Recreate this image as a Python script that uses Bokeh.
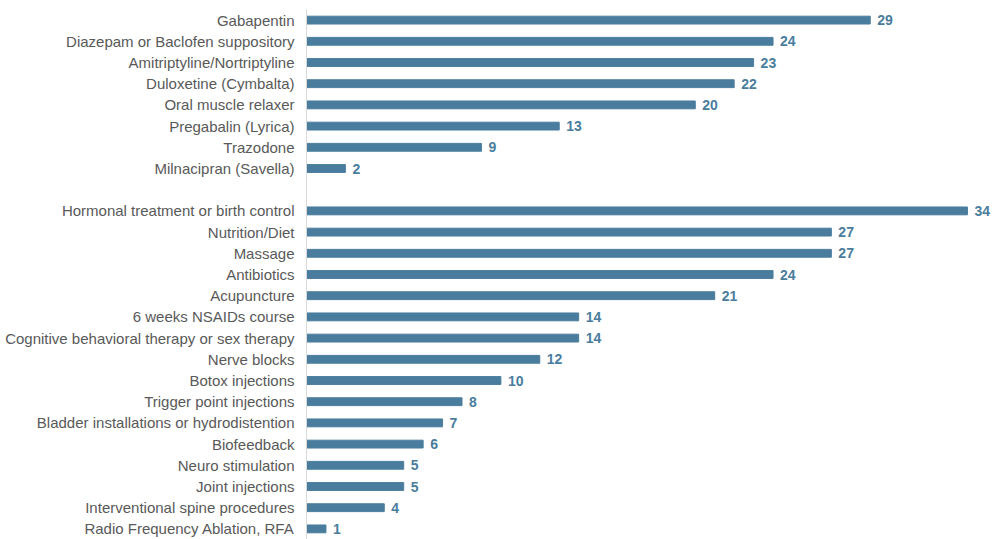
from bokeh.plotting import figure
from bokeh.models import ColumnDataSource, FixedTicker, Range1d
from bokeh.core.properties import value
from bokeh.embed import file_html
from bokeh.resources import INLINE

group1 = ["Gabapentin", "Diazepam or Baclofen suppository", "Amitriptyline/Nortriptyline",
          "Duloxetine (Cymbalta)", "Oral muscle relaxer", "Pregabalin (Lyrica)",
          "Trazodone", "Milnacipran (Savella)"]
values1 = [29, 24, 23, 22, 20, 13, 9, 2]
group2 = ["Hormonal treatment or birth control", "Nutrition/Diet", "Massage", "Antibiotics",
          "Acupuncture", "6 weeks NSAIDs course", "Cognitive behavioral therapy or sex therapy",
          "Nerve blocks", "Botox injections", "Trigger point injections",
          "Bladder installations or hydrodistention", "Biofeedback", "Neuro stimulation",
          "Joint injections", "Interventional spine procedures", "Radio Frequency Ablation, RFA"]
values2 = [34, 27, 27, 24, 21, 14, 14, 12, 10, 8, 7, 6, 5, 5, 4, 1]

cats = group1 + group2
vals = values1 + values2
ypos = [-i for i in range(len(group1))] + [-(i + len(group1) + 1) for i in range(len(group2))]

BAR = "#4a7d9d"
src = ColumnDataSource(dict(y=ypos, v=vals, lab=[str(v) for v in vals]))

p = figure(width=992, height=539, output_backend="svg", toolbar_location=None,
           x_range=Range1d(0, 35.29), y_range=Range1d(-24.5, 0.5),
           min_border_left=306, min_border_right=0, min_border_top=9, min_border_bottom=0)
p.hbar(y="y", left=0, right="v", height=0.37, color=BAR, source=src)
p.text(x="v", y="y", text="lab", source=src, x_offset=7, text_baseline="middle",
       text_align="left", text_color=BAR, text_font=value("Liberation Sans"),
       text_font_style="bold", text_font_size="14px")

p.xaxis.visible = False
p.xgrid.visible = False
p.ygrid.visible = False
p.outline_line_color = None
ya = p.yaxis[0]
ya.ticker = FixedTicker(ticks=ypos)
ya.major_label_overrides = {y: c for y, c in zip(ypos, cats)}
ya.axis_line_color = "#d9d9d9"
ya.major_tick_line_color = None
ya.minor_tick_line_color = None
ya.major_label_standoff = 6
ya.major_label_text_font = "Liberation Sans"
ya.major_label_text_font_size = "15px"
ya.major_label_text_color = "#595959"

open("out.html", "w").write(file_html(p, INLINE))
